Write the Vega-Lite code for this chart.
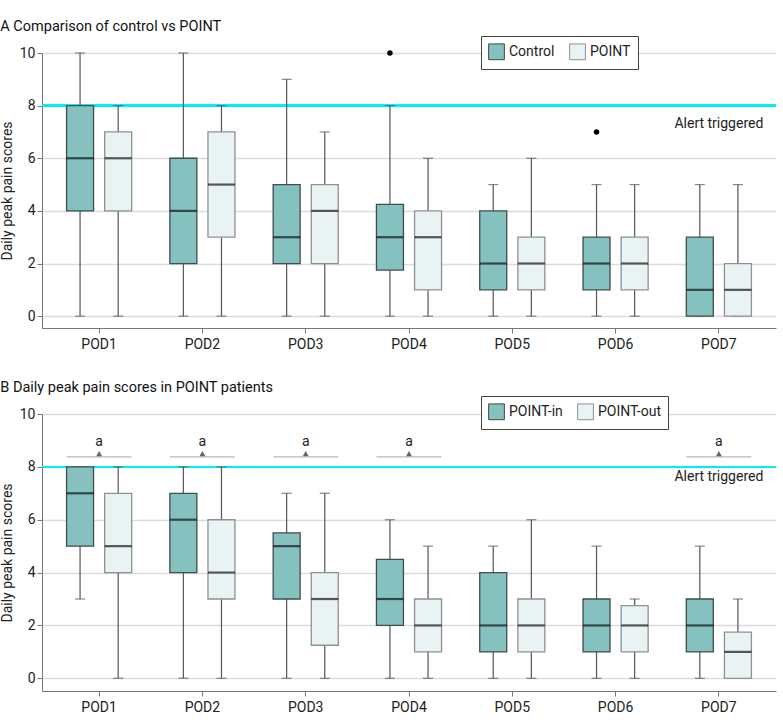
{
  "$schema": "https://vega.github.io/schema/vega-lite/v6.json",
  "padding": {"left": 0, "top": 19, "right": 6, "bottom": 4},
  "background": "white",
  "config": {
    "font": "Roboto, sans-serif",
    "view": {"stroke": null},
    "axis": {"labelFontSize": 14, "labelColor": "#222", "titleFontSize": 14, "titleFontWeight": "normal", "titleColor": "#222", "domainColor": "#777", "tickColor": "#777", "gridColor": "#dcdcdc", "gridWidth": 1.5},
    "axisX": {"labelAngle": 0, "tickSize": 5, "labelPadding": 4, "title": null, "grid": false},
    "axisY": {"tickSize": 5, "labelPadding": 2, "titlePadding": 5},
    "title": {"fontSize": 14.5, "fontWeight": "normal", "anchor": "start", "frame": "bounds", "color": "#111"},
    "legend": {"orient": "none", "direction": "horizontal", "strokeColor": "#444", "fillColor": "white", "padding": 7, "symbolType": "square", "symbolSize": 250, "symbolStrokeWidth": 1, "labelFontSize": 14, "labelColor": "#222", "columnPadding": 12, "symbolOpacity": 1, "title": null}
  },
  "resolve": {
    "scale": {"x": "independent", "xOffset": "independent", "y": "independent", "fill": "independent", "stroke": "independent"},
    "legend": {"fill": "independent", "stroke": "independent"}
  },
  "datasets": {
    "A": [
      {"pod": "POD1", "group": "Control", "min": 0, "q1": 4, "med": 6, "q3": 8, "max": 10},
      {"pod": "POD1", "group": "POINT", "min": 0, "q1": 4, "med": 6, "q3": 7, "max": 8},
      {"pod": "POD2", "group": "Control", "min": 0, "q1": 2, "med": 4, "q3": 6, "max": 10},
      {"pod": "POD2", "group": "POINT", "min": 0, "q1": 3, "med": 5, "q3": 7, "max": 8},
      {"pod": "POD3", "group": "Control", "min": 0, "q1": 2, "med": 3, "q3": 5, "max": 9},
      {"pod": "POD3", "group": "POINT", "min": 0, "q1": 2, "med": 4, "q3": 5, "max": 7},
      {"pod": "POD4", "group": "Control", "min": 0, "q1": 1.75, "med": 3, "q3": 4.25, "max": 8},
      {"pod": "POD4", "group": "POINT", "min": 0, "q1": 1, "med": 3, "q3": 4, "max": 6},
      {"pod": "POD5", "group": "Control", "min": 0, "q1": 1, "med": 2, "q3": 4, "max": 5},
      {"pod": "POD5", "group": "POINT", "min": 0, "q1": 1, "med": 2, "q3": 3, "max": 6},
      {"pod": "POD6", "group": "Control", "min": 0, "q1": 1, "med": 2, "q3": 3, "max": 5},
      {"pod": "POD6", "group": "POINT", "min": 0, "q1": 1, "med": 2, "q3": 3, "max": 5},
      {"pod": "POD7", "group": "Control", "min": 0, "q1": 0, "med": 1, "q3": 3, "max": 5},
      {"pod": "POD7", "group": "POINT", "min": 0, "q1": 0, "med": 1, "q3": 2, "max": 5}
    ],
    "Aout": [
      {"pod": "POD4", "group": "Control", "value": 10},
      {"pod": "POD6", "group": "Control", "value": 7}
    ],
    "B": [
      {"pod": "POD1", "group": "POINT-in", "min": 3, "q1": 5, "med": 7, "q3": 8, "max": 8},
      {"pod": "POD1", "group": "POINT-out", "min": 0, "q1": 4, "med": 5, "q3": 7, "max": 8},
      {"pod": "POD2", "group": "POINT-in", "min": 0, "q1": 4, "med": 6, "q3": 7, "max": 8},
      {"pod": "POD2", "group": "POINT-out", "min": 0, "q1": 3, "med": 4, "q3": 6, "max": 8},
      {"pod": "POD3", "group": "POINT-in", "min": 0, "q1": 3, "med": 5, "q3": 5.5, "max": 7},
      {"pod": "POD3", "group": "POINT-out", "min": 0, "q1": 1.25, "med": 3, "q3": 4, "max": 7},
      {"pod": "POD4", "group": "POINT-in", "min": 0, "q1": 2, "med": 3, "q3": 4.5, "max": 6},
      {"pod": "POD4", "group": "POINT-out", "min": 0, "q1": 1, "med": 2, "q3": 3, "max": 5},
      {"pod": "POD5", "group": "POINT-in", "min": 0, "q1": 1, "med": 2, "q3": 4, "max": 5},
      {"pod": "POD5", "group": "POINT-out", "min": 0, "q1": 1, "med": 2, "q3": 3, "max": 6},
      {"pod": "POD6", "group": "POINT-in", "min": 0, "q1": 1, "med": 2, "q3": 3, "max": 5},
      {"pod": "POD6", "group": "POINT-out", "min": 0, "q1": 1, "med": 2, "q3": 2.75, "max": 3},
      {"pod": "POD7", "group": "POINT-in", "min": 0, "q1": 1, "med": 2, "q3": 3, "max": 5},
      {"pod": "POD7", "group": "POINT-out", "min": 0, "q1": 0, "med": 1, "q3": 1.75, "max": 3}
    ],
    "Bsig": [
      {"pod": "POD1", "line": 8.38, "tri": 8.5, "label": "a", "labely": 8.95},
      {"pod": "POD2", "line": 8.38, "tri": 8.5, "label": "a", "labely": 8.95},
      {"pod": "POD3", "line": 8.38, "tri": 8.5, "label": "a", "labely": 8.95},
      {"pod": "POD4", "line": 8.38, "tri": 8.5, "label": "a", "labely": 8.95},
      {"pod": "POD7", "line": 8.38, "tri": 8.5, "label": "a", "labely": 8.95}
    ]
  },
  "vconcat": [
    {
      "title": {"text": "A   Comparison of control vs POINT", "offset": 1},
      "width": 734,
      "height": 275,
      "data": {"name": "A"},
      "encoding": {
        "x": {"field": "pod", "type": "nominal", "sort": ["POD1","POD2","POD3","POD4","POD5","POD6","POD7"], "scale": {"paddingInner": 0, "paddingOuter": 0.053}},
        "xOffset": {"field": "group", "type": "nominal", "sort": ["Control","POINT"], "scale": {"paddingInner": 0.29, "paddingOuter": 0.5}}
      },
      "layer": [
        {
          "mark": {"type": "rule", "color": "#00eefa", "strokeWidth": 1.6},
          "encoding": {"x": null, "xOffset": null, "y": {"datum": 8, "type": "quantitative", "scale": {"domain": [-0.45, 10], "nice": false, "zero": false}, "axis": {"values": [0,2,4,6,8,10], "title": "Daily peak pain scores", "grid": true}}}
        },
        {
          "mark": {"type": "rule", "color": "#555", "strokeWidth": 1.2},
          "encoding": {"y": {"field": "min", "type": "quantitative"}, "y2": {"field": "q1"}}
        },
        {
          "mark": {"type": "rule", "color": "#555", "strokeWidth": 1.2},
          "encoding": {"y": {"field": "q3", "type": "quantitative"}, "y2": {"field": "max"}}
        },
        {
          "mark": {"type": "tick", "orient": "horizontal", "size": 10, "thickness": 1.2, "color": "#555"},
          "encoding": {"y": {"field": "min", "type": "quantitative"}}
        },
        {
          "mark": {"type": "tick", "orient": "horizontal", "size": 10, "thickness": 1.2, "color": "#555"},
          "encoding": {"y": {"field": "max", "type": "quantitative"}}
        },
        {
          "mark": {"type": "bar", "strokeWidth": 1.3, "opacity": 1, "width": 27},
          "encoding": {
            "y": {"field": "q1", "type": "quantitative"},
            "y2": {"field": "q3"},
            "fill": {"field": "group", "type": "nominal", "scale": {"domain": ["Control","POINT"], "range": ["#85c1bf","#e9f3f4"]}, "legend": {"legendX": 439, "legendY": -17}},
            "stroke": {"field": "group", "type": "nominal", "scale": {"domain": ["Control","POINT"], "range": ["#3f4d4d","#8c9292"]}, "legend": {"legendX": 439, "legendY": -17}}
          }
        },
        {
          "mark": {"type": "tick", "orient": "horizontal", "size": 27, "thickness": 2.2, "color": "#111"},
          "encoding": {"y": {"field": "med", "type": "quantitative"}}
        },
        {
          "data": {"name": "Aout"},
          "mark": {"type": "point", "filled": true, "color": "#000", "size": 30, "opacity": 1},
          "encoding": {"y": {"field": "value", "type": "quantitative"}}
        },
        {
          "data": {"values": [{"pod": "POD7", "label": "Alert triggered", "y": 7.32}]},
          "mark": {"type": "text", "fontSize": 14, "color": "#222", "align": "center"},
          "encoding": {"xOffset": null, "y": {"field": "y", "type": "quantitative"}, "text": {"field": "label"}}
        }
      ]
    },
    {
      "title": {"text": "B   Daily peak pain scores in POINT patients", "offset": 0},
      "width": 734,
      "height": 277,
      "data": {"name": "B"},
      "encoding": {
        "x": {"field": "pod", "type": "nominal", "sort": ["POD1","POD2","POD3","POD4","POD5","POD6","POD7"], "scale": {"paddingInner": 0, "paddingOuter": 0.053}},
        "xOffset": {"field": "group", "type": "nominal", "sort": ["POINT-in","POINT-out"], "scale": {"paddingInner": 0.29, "paddingOuter": 0.5}}
      },
      "layer": [
        {
          "mark": {"type": "rule", "color": "#00eefa", "strokeWidth": 1.6},
          "encoding": {"x": null, "xOffset": null, "y": {"datum": 8, "type": "quantitative", "scale": {"domain": [-0.48, 10], "nice": false, "zero": false}, "axis": {"values": [0,2,4,6,8,10], "title": "Daily peak pain scores", "grid": true}}}
        },
        {
          "mark": {"type": "rule", "color": "#555", "strokeWidth": 1.2},
          "encoding": {"y": {"field": "min", "type": "quantitative"}, "y2": {"field": "q1"}}
        },
        {
          "mark": {"type": "rule", "color": "#555", "strokeWidth": 1.2},
          "encoding": {"y": {"field": "q3", "type": "quantitative"}, "y2": {"field": "max"}}
        },
        {
          "mark": {"type": "tick", "orient": "horizontal", "size": 10, "thickness": 1.2, "color": "#555"},
          "encoding": {"y": {"field": "min", "type": "quantitative"}}
        },
        {
          "mark": {"type": "tick", "orient": "horizontal", "size": 10, "thickness": 1.2, "color": "#555"},
          "encoding": {"y": {"field": "max", "type": "quantitative"}}
        },
        {
          "mark": {"type": "bar", "strokeWidth": 1.3, "opacity": 1, "width": 27},
          "encoding": {
            "y": {"field": "q1", "type": "quantitative"},
            "y2": {"field": "q3"},
            "fill": {"field": "group", "type": "nominal", "scale": {"domain": ["POINT-in","POINT-out"], "range": ["#85c1bf","#e9f3f4"]}, "legend": {"legendX": 439, "legendY": -18}},
            "stroke": {"field": "group", "type": "nominal", "scale": {"domain": ["POINT-in","POINT-out"], "range": ["#3f4d4d","#8c9292"]}, "legend": {"legendX": 439, "legendY": -18}}
          }
        },
        {
          "mark": {"type": "tick", "orient": "horizontal", "size": 27, "thickness": 2.2, "color": "#111"},
          "encoding": {"y": {"field": "med", "type": "quantitative"}}
        },
        {
          "data": {"name": "Bsig"},
          "mark": {"type": "tick", "orient": "horizontal", "size": 65, "thickness": 1.2, "color": "#9a9a9a"},
          "encoding": {"xOffset": null, "y": {"field": "line", "type": "quantitative"}}
        },
        {
          "data": {"name": "Bsig"},
          "mark": {"type": "point", "shape": "triangle-up", "filled": true, "color": "#666", "size": 35, "opacity": 1},
          "encoding": {"xOffset": null, "y": {"field": "tri", "type": "quantitative"}}
        },
        {
          "data": {"name": "Bsig"},
          "mark": {"type": "text", "fontSize": 14, "color": "#222"},
          "encoding": {"xOffset": null, "y": {"field": "labely", "type": "quantitative"}, "text": {"field": "label"}}
        },
        {
          "data": {"values": [{"pod": "POD7", "label": "Alert triggered", "y": 7.62}]},
          "mark": {"type": "text", "fontSize": 14, "color": "#222", "align": "center"},
          "encoding": {"xOffset": null, "y": {"field": "y", "type": "quantitative"}, "text": {"field": "label"}}
        }
      ]
    }
  ],
  "spacing": 29
}
